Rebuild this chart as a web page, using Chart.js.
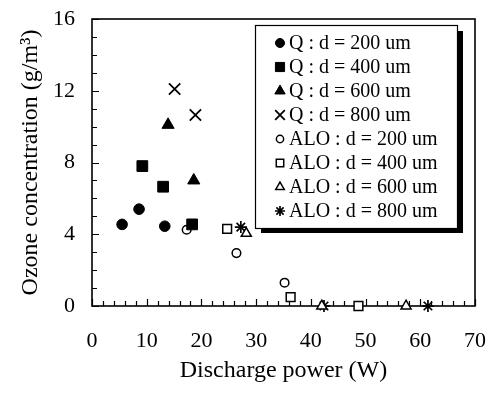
<!DOCTYPE html>
<html>
<head>
<meta charset="utf-8">
<script src="https://cdn.jsdelivr.net/npm/chart.js"></script>
<style>
  html, body { margin: 0; padding: 0; background: #fff; }
</style>
</head>
<body>
<canvas id="chOzone" width="492" height="394"></canvas>
<script>
// discharge power (W) / ozone concentration (g/m3) per electrode and gap
var powerQ200 = [5.5, 8.6, 13.3];
var ozoneQ200 = [4.55, 5.4, 4.45];
var powerQ400 = [9.2, 13.0, 18.3];
var ozoneQ400 = [7.8, 6.65, 4.55];
var powerQ600 = [13.9, 18.6];
var ozoneQ600 = [10.1, 7.0];
var powerQ800 = [15.1, 18.9];
var ozoneQ800 = [12.1, 10.65];
var powerA200 = [17.3, 26.4, 35.2];
var ozoneA200 = [4.25, 2.95, 1.3];
var powerA400 = [24.7, 36.3, 48.7];
var ozoneA400 = [4.3, 0.5, 0];
var powerA600 = [28.2, 42.0, 57.4];
var ozoneA600 = [4.05, 0, 0];
var powerA800 = [27.2, 42.4, 61.4];
var ozoneA800 = [4.4, 0, 0];

var seriesNames = [
  'Q : d = 200 um', 'Q : d = 400 um', 'Q : d = 600 um', 'Q : d = 800 um',
  'ALO : d = 200 um', 'ALO : d = 400 um', 'ALO : d = 600 um', 'ALO : d = 800 um'
];
var xTicks = [0, 10, 20, 30, 40, 50, 60, 70];
var yTicks = [0, 4, 8, 12, 16];

var serif = '"Liberation Serif", "DejaVu Serif", serif';

function pairs(xs, ys) {
  return xs.map(function (v, i) { return {x: v, y: ys[i]}; });
}

function series(name, xs, ys, style, radius, filled, lw) {
  return {
    label: name,
    data: pairs(xs, ys),
    pointStyle: style,
    pointRadius: radius,
    pointHoverRadius: radius,
    pointBackgroundColor: filled ? '#000' : '#fff',
    pointBorderColor: '#000',
    pointBorderWidth: lw,
    clip: false
  };
}

var datasets = [
  series(seriesNames[0], powerQ200, ozoneQ200, 'circle', 5.3, true, 1),
  series(seriesNames[1], powerQ400, ozoneQ400, 'rect', 7.6, true, 1),
  series(seriesNames[2], powerQ600, ozoneQ600, 'triangle', 7, true, 1),
  series(seriesNames[3], powerQ800, ozoneQ800, 'crossRot', 8, true, 1.8),
  series(seriesNames[4], powerA200, ozoneA200, 'circle', 4.3, false, 1.5),
  series(seriesNames[5], powerA400, ozoneA400, 'rect', 6.2, false, 1.5),
  series(seriesNames[6], powerA600, ozoneA600, 'triangle', 5.8, false, 1.5),
  series(seriesNames[7], powerA800, ozoneA800, 'star', 6, false, 1.7)
];

// closed frame with inward ticks
var frameTicks = {
  id: 'frameTicks',
  beforeDatasetsDraw: function (chart) {
    var ctx = chart.ctx, a = chart.chartArea, x = chart.scales.x, y = chart.scales.y;
    ctx.save();
    ctx.strokeStyle = '#000';
    ctx.lineWidth = 1.6;
    ctx.strokeRect(a.left, a.top, a.right - a.left, a.bottom - a.top);
    ctx.lineWidth = 1.2;
    ctx.beginPath();
    for (var v = 0; v <= 70; v += 2) {
      var px = Math.round(x.getPixelForValue(v)) + 0.5;
      ctx.moveTo(px, a.bottom);
      ctx.lineTo(px, a.bottom - (v % 10 ? 5 : 7));
    }
    for (var w = 0; w <= 16; w += 1) {
      var py = Math.round(y.getPixelForValue(w)) + 0.5;
      ctx.moveTo(a.left, py);
      ctx.lineTo(a.left + (w % 4 ? 5 : 7), py);
    }
    ctx.stroke();
    ctx.restore();
  }
};

// boxed legend with drop shadow, inside the plot
var boxLegend = {
  id: 'boxLegend',
  afterDraw: function (chart) {
    var ctx = chart.ctx, a = chart.chartArea;
    var w = 202, h = 203;
    var left = a.right - 18 - w, top = a.top + 6;
    ctx.save();
    ctx.fillStyle = '#000';
    ctx.fillRect(left + 6, top + 6, w, h - 1);
    ctx.fillStyle = '#fff';
    ctx.fillRect(left, top, w, h);
    ctx.strokeStyle = '#000';
    ctx.lineWidth = 1.2;
    ctx.strokeRect(left + 0.5, top + 0.5, w, h);
    ctx.font = '20px ' + serif;
    ctx.textBaseline = 'middle';
    chart.data.datasets.forEach(function (ds, i) {
      var cy = top + 18 + i * 24;
      var mx = left + 25;
      ctx.fillStyle = ds.pointBackgroundColor;
      ctx.strokeStyle = ds.pointBorderColor;
      ctx.lineWidth = ds.pointBorderWidth;
      Chart.helpers.drawPoint(ctx, {
        pointStyle: ds.pointStyle,
        radius: ds.pointRadius * 0.85,
        rotation: 0,
        borderWidth: ds.pointBorderWidth
      }, mx, cy);
      ctx.fillStyle = '#000';
      ctx.fillText(ds.label, left + 34, cy + 1);
    });
    ctx.restore();
  }
};

new Chart(document.getElementById('chOzone'), {
  type: 'scatter',
  data: {datasets: datasets},
  options: {
    responsive: false,
    devicePixelRatio: 1,
    animation: false,
    layout: {padding: {top: 19, right: 17, left: 0, bottom: 0}},
    plugins: {legend: {display: false}, tooltip: {enabled: false}},
    scales: {
      x: {
        type: 'linear', min: 0, max: 70,
        afterBuildTicks: function (s) { s.ticks = xTicks.map(function (v) { return {value: v}; }); },
        afterFit: function (s) { s.height = 88; s.paddingLeft = 0; s.paddingRight = 0; },
        grid: {display: false, drawTicks: false},
        border: {display: false},
        ticks: {color: '#000', padding: 22, maxRotation: 0, font: {family: serif, size: 22}},
        title: {display: true, text: 'Discharge power (W)', color: '#000',
                font: {family: serif, size: 24}, padding: {top: 0, bottom: 9}}
      },
      y: {
        type: 'linear', min: 0, max: 16,
        afterBuildTicks: function (s) { s.ticks = yTicks.map(function (v) { return {value: v}; }); },
        afterFit: function (s) { s.width = 92; s.paddingTop = 0; s.paddingBottom = 0; },
        grid: {display: false, drawTicks: false},
        border: {display: false},
        ticks: {color: '#000', padding: 17, font: {family: serif, size: 22}},
        title: {display: true, text: 'Ozone concentration (g/m\u00B3)', color: '#000',
                font: {family: serif, size: 24}, padding: {top: 16, bottom: 0}}
      }
    }
  },
  plugins: [frameTicks, boxLegend]
});
</script>
</body>
</html>
